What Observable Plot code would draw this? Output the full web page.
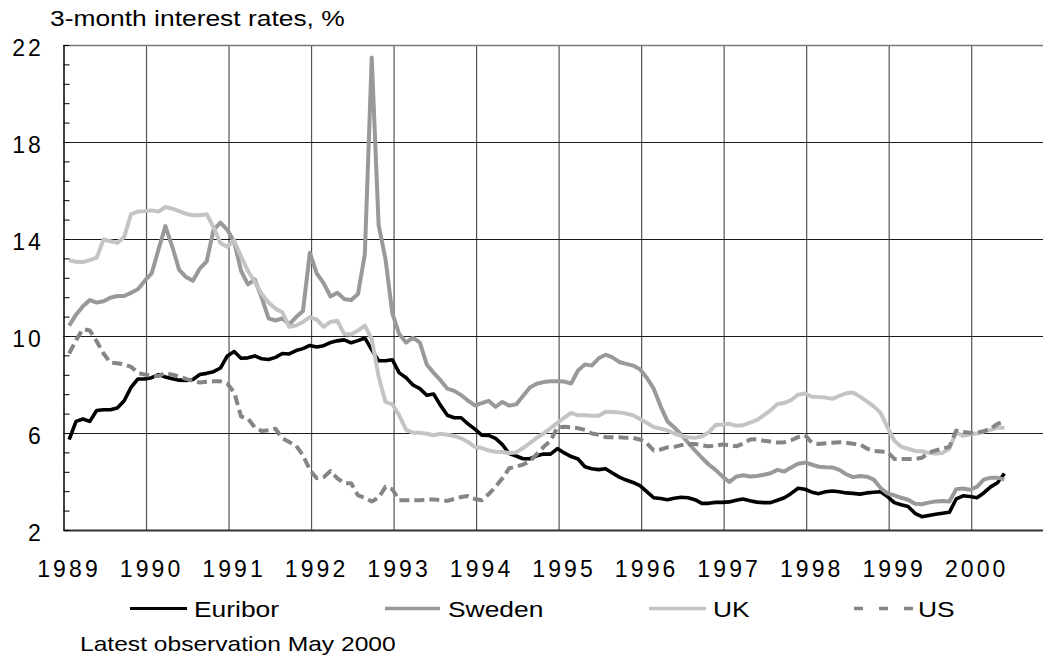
<!DOCTYPE html>
<html>
<head>
<meta charset="utf-8">
<script src="https://cdn.jsdelivr.net/npm/d3@7"></script>
<script src="https://cdn.jsdelivr.net/npm/@observablehq/plot@0.6"></script>
<style>
  body { margin: 0; background: #fff; }
  #wrap { position: relative; width: 1043px; height: 660px; overflow: hidden; font-family: "Liberation Sans", Arial, sans-serif; }
  #chart { position: absolute; left: 0; top: 0; }
  #overlay { position: absolute; left: 0; top: 0; pointer-events: none; }
  #chart svg text { letter-spacing: 3.1px; }
</style>
</head>
<body>
<div id="wrap">
  <div id="chart"></div>
  <svg id="overlay" width="1043" height="660"></svg>
</div>
<script>
// ---- data: monthly 3-month interest rates, Jan 1989 .. May 2000 ----
const firstYear = 1989;
const euribor = [
  5.75, 6.5, 6.6, 6.5, 6.95, 6.98, 6.98, 7.05, 7.35, 7.9, 8.25, 8.25,
  8.3, 8.43, 8.33, 8.26, 8.2, 8.19, 8.23, 8.43, 8.48, 8.55, 8.7, 9.2,
  9.38, 9.1, 9.12, 9.2, 9.08, 9.05, 9.14, 9.3, 9.28, 9.42, 9.5, 9.63,
  9.57, 9.62, 9.75, 9.82, 9.86, 9.74, 9.83, 9.94, 9.45, 9.0, 9.0, 9.04,
  8.5, 8.3, 8.0, 7.85, 7.58, 7.63, 7.16, 6.75, 6.65, 6.65, 6.4, 6.18,
  5.93, 5.92, 5.8, 5.54, 5.17, 5.07, 4.96, 4.96, 5.08, 5.15, 5.15, 5.38,
  5.2, 5.05, 4.95, 4.63, 4.55, 4.51, 4.55, 4.37, 4.2, 4.08, 3.98, 3.85,
  3.6, 3.35, 3.32, 3.27, 3.33, 3.37, 3.35, 3.27, 3.12, 3.12, 3.16, 3.16,
  3.18, 3.25, 3.3, 3.23, 3.17, 3.15, 3.15, 3.25, 3.35, 3.53, 3.74, 3.7,
  3.58, 3.52, 3.6, 3.63, 3.6, 3.55, 3.53, 3.5, 3.55, 3.58, 3.6, 3.4,
  3.15, 3.06, 2.99, 2.71, 2.57, 2.62, 2.67, 2.71, 2.75, 3.3, 3.43, 3.4,
  3.35, 3.55, 3.8, 3.97, 4.35
];
const sweden = [
  10.45, 10.9, 11.25, 11.5, 11.4, 11.45, 11.6, 11.67, 11.67, 11.8, 11.95, 12.3,
  12.6, 13.6, 14.55, 13.7, 12.75, 12.45, 12.3, 12.8, 13.1, 14.4, 14.7, 14.4,
  13.9, 12.7, 12.15, 12.35, 11.6, 10.75, 10.66, 10.75, 10.5, 10.8, 11.05, 13.45,
  12.6, 12.2, 11.65, 11.8, 11.55, 11.5, 11.75, 13.4, 21.5, 14.6, 13.2, 10.95,
  10.1, 9.75, 9.95, 9.75, 8.85, 8.5, 8.2, 7.85, 7.76, 7.58, 7.36, 7.16,
  7.25, 7.35, 7.1, 7.3, 7.15, 7.2, 7.55, 7.9, 8.05, 8.12, 8.15, 8.15,
  8.14, 8.06, 8.6, 8.85, 8.8, 9.1, 9.25, 9.14, 8.95, 8.87, 8.8, 8.65,
  8.3, 7.85, 7.13, 6.5, 6.25, 5.95, 5.62, 5.3, 5.0, 4.72, 4.5, 4.23,
  4.0, 4.22, 4.28, 4.23, 4.25, 4.3, 4.36, 4.5, 4.43, 4.6, 4.75, 4.8,
  4.72, 4.63, 4.61, 4.6, 4.5, 4.32, 4.2, 4.25, 4.22, 4.1, 3.75, 3.53,
  3.45, 3.35, 3.27, 3.1, 3.08, 3.15, 3.2, 3.22, 3.2, 3.7, 3.73, 3.68,
  3.8, 4.1, 4.18, 4.18, 4.1
];
const uk = [
  13.14, 13.08, 13.07, 13.15, 13.25, 14.0, 13.93, 13.86, 14.1, 15.05, 15.15, 15.17,
  15.2, 15.15, 15.34, 15.27, 15.17, 15.06, 15.0, 15.0, 15.04, 14.5, 13.85, 13.7,
  13.95, 13.3, 12.7, 12.25, 11.75, 11.4, 11.15, 11.0, 10.4, 10.45, 10.6, 10.8,
  10.7, 10.4, 10.6, 10.65, 10.1, 10.08, 10.25, 10.45, 9.9, 8.35, 7.3, 7.2,
  6.75, 6.15, 6.03, 6.03, 5.99, 5.93, 5.99, 5.95, 5.9, 5.8, 5.65, 5.45,
  5.4, 5.3, 5.25, 5.24, 5.2, 5.22, 5.4, 5.6, 5.82, 6.0, 6.22, 6.44,
  6.65, 6.85, 6.75, 6.75, 6.73, 6.73, 6.9, 6.89, 6.87, 6.82, 6.75, 6.6,
  6.44, 6.27, 6.2, 6.13, 6.0, 5.9, 5.85, 5.82, 5.88, 6.05, 6.35, 6.37,
  6.4, 6.32, 6.34, 6.45, 6.55, 6.75, 6.95, 7.22, 7.26, 7.38, 7.6, 7.65,
  7.52, 7.5, 7.48, 7.43, 7.55, 7.66, 7.69, 7.52, 7.32, 7.12, 6.85, 6.25,
  5.7, 5.45, 5.37, 5.28, 5.27, 5.2, 5.17, 5.2, 5.37, 6.05, 5.9, 5.97,
  6.0, 6.08, 6.15, 6.24, 6.24
];
const us = [
  9.3, 9.85, 10.3, 10.25, 9.8, 9.3, 8.92, 8.9, 8.85, 8.75, 8.5, 8.43,
  8.37, 8.37, 8.5, 8.43, 8.35, 8.25, 8.17, 8.1, 8.13, 8.15, 8.15, 8.05,
  7.7, 6.7, 6.62, 6.25, 6.1, 6.13, 6.2, 5.8, 5.65, 5.5, 5.1, 4.5,
  4.15, 4.2, 4.45, 4.15, 3.95, 3.95, 3.45, 3.35, 3.2, 3.35, 3.8, 3.7,
  3.25, 3.25, 3.25, 3.25, 3.27, 3.28, 3.25, 3.22, 3.3, 3.38, 3.42, 3.3,
  3.25, 3.5, 3.8, 4.15, 4.57, 4.63, 4.72, 4.85, 5.15, 5.45, 5.7, 6.25,
  6.28, 6.25, 6.22, 6.15, 6.0, 5.95, 5.85, 5.85, 5.85, 5.82, 5.82, 5.75,
  5.6, 5.3, 5.34, 5.43, 5.45, 5.52, 5.57, 5.57, 5.52, 5.47, 5.5, 5.55,
  5.52, 5.47, 5.58, 5.75, 5.76, 5.7, 5.67, 5.63, 5.64, 5.72, 5.85, 5.93,
  5.62, 5.57, 5.6, 5.62, 5.64, 5.62, 5.58, 5.55, 5.38, 5.28, 5.26, 5.24,
  4.95, 4.95, 4.95, 4.95, 5.0, 5.2, 5.3, 5.38, 5.45, 6.12, 6.06, 6.03,
  6.03, 6.1, 6.2, 6.4, 6.5
];
const seriesNames = ["Euribor", "Sweden", "UK", "US"];
const yearTicks = [1989, 1990, 1991, 1992, 1993, 1994, 1995, 1996, 1997, 1998, 1999, 2000];
const yTicks = [2, 6, 10, 14, 18, 22];
const titleText = "3-month interest rates, %";
const captionText = "Latest observation May 2000";

// ---- styles ----
const styles = {
  Euribor: {stroke: "#000000", strokeWidth: 3.6},
  Sweden:  {stroke: "#999999", strokeWidth: 4},
  UK:      {stroke: "#c4c4c4", strokeWidth: 4},
  US:      {stroke: "#858585", strokeWidth: 4, strokeDasharray: "10,5"}
};
const valuesBy = {Euribor: euribor, Sweden: sweden, UK: uk, US: us};

// monthly observation -> decimal year
const toRows = (name) => valuesBy[name].map((v, i) => ({series: name, t: firstYear + (i + 0.75) / 12, v}));

const minorTicks = d3.range(0, 26).map(k => 2 + 0.8 * k);

const plot = Plot.plot({
  width: 1043,
  height: 590,
  marginLeft: 63.5,
  marginRight: 0,
  marginTop: 45,
  marginBottom: 60,
  x: {domain: [1989, 2000.87]},
  y: {domain: [2, 22]},
  style: {fontFamily: "'Liberation Sans', Arial, sans-serif", color: "#000", background: "#fff", overflow: "visible"},
  marks: [
    Plot.ruleX(yearTicks.slice(1), {stroke: "#555", strokeWidth: 1.2, strokeOpacity: 1}),
    Plot.ruleY([6, 10, 14, 18], {stroke: "#1a1a1a", strokeWidth: 1.2, strokeOpacity: 1}),
    Plot.ruleY([22], {stroke: "#777", strokeWidth: 1.5, strokeOpacity: 1}),
    ...seriesNames.map(name => Plot.lineY(toRows(name), {
      x: "t", y: "v", ...styles[name], strokeLinejoin: "round", strokeLinecap: "butt", curve: "linear"
    })),
    Plot.ruleX([1989], {stroke: "#000", strokeWidth: 1.5, strokeOpacity: 1}),
    Plot.ruleY([2], {stroke: "#333", strokeWidth: 2, strokeOpacity: 1}),
    Plot.axisY(minorTicks, {tickSize: -6, tickFormat: () => "", stroke: "#000", strokeWidth: 1, label: null}),
    Plot.axisY(yTicks, {tickSize: 0, tickPadding: 20, fontSize: 23, dy: 3, label: null, tickFormat: "d"}),
    Plot.axisX(yearTicks, {tickSize: 0, tickPadding: 30, fontSize: 23, dx: 5, label: null, tickFormat: "d"})
  ]
});
document.getElementById("chart").appendChild(plot);

// ---- title, legend, caption ----
const ov = d3.select("#overlay");
const ff = "'Liberation Sans', Arial, sans-serif";
function addText(str, x, y, size) {
  ov.append("text").attr("transform", `translate(${x},${y}) scale(1.2,1)`)
    .attr("font-family", ff).attr("font-size", size).attr("fill", "#000").text(str);
}
addText(titleText, 50, 26, 22);
addText(captionText, 80, 650.5, 20.5);

const legendItems = [
  {name: "Euribor", x1: 130, x2: 187, tx: 194},
  {name: "Sweden", x1: 385, x2: 440, tx: 448},
  {name: "UK", x1: 649, x2: 706, tx: 713},
  {name: "US", x1: 854, x2: 913, tx: 918}
];
legendItems.forEach(it => {
  const s = styles[it.name];
  ov.append("line").attr("x1", it.x1).attr("x2", it.x2).attr("y1", 608.5).attr("y2", 608.5)
    .attr("stroke", s.stroke).attr("stroke-width", it.name === "Euribor" ? 3 : 3.5)
    .attr("stroke-dasharray", it.name === "US" ? "9,16" : null);
  addText(it.name, it.tx, 617, 22);
});
</script>
</body>
</html>
